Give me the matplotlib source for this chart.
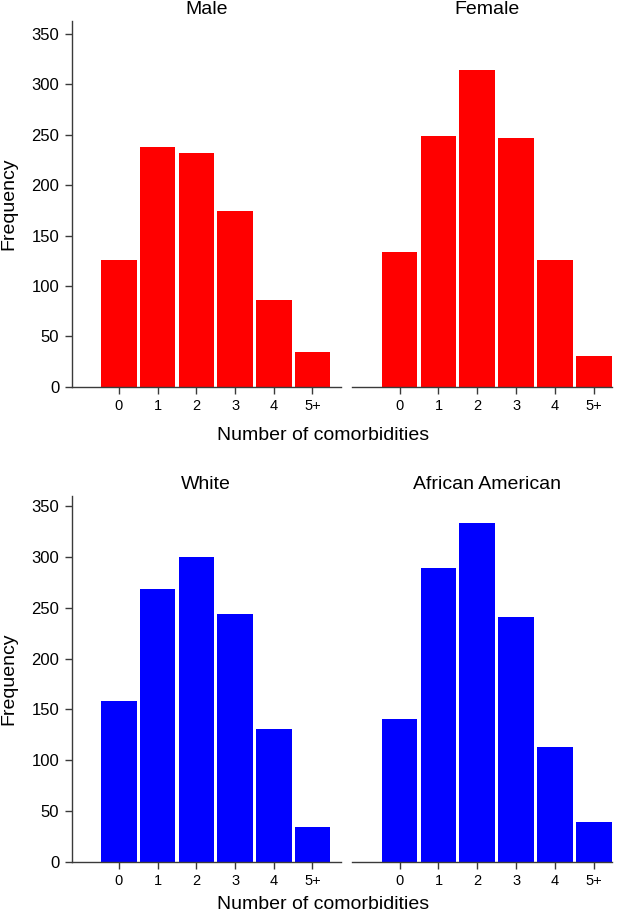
import numpy as np
import matplotlib
matplotlib.use("Agg")
import matplotlib.pyplot as plt

plt.rcParams['font.family'] = ['Liberation Sans', 'DejaVu Sans']

# --- data ---
categories = ["0", "1", "2", "3", "4", "5+"]
male = [126, 238, 232, 174, 86, 34]
female = [134, 249, 314, 247, 126, 30]
white = [158, 268, 300, 244, 131, 34]
african_american = [140, 289, 333, 241, 113, 39]
yticks = [0, 50, 100, 150, 200, 250, 300, 350]

W, H = 622, 914
fig = plt.figure(figsize=(W / 100, H / 100), dpi=100)

spine_col = "#3a3a3a"
x = np.arange(len(categories))


def make_panel(rect, values, color, title, ylim_top, show_y, spine_end):
    ax = fig.add_axes(rect)
    ax.bar(x, values, width=0.92, color=color, edgecolor="none")
    ax.set_xlim(-1.22, 5.73)
    ax.set_ylim(0, ylim_top)
    ax.set_xticks(x)
    ax.set_xticklabels(categories, fontsize=10.5)
    ax.set_title(title, fontsize=14, pad=5)
    for s in ["top", "right"]:
        ax.spines[s].set_visible(False)
    ax.spines["bottom"].set_color(spine_col)
    ax.spines["bottom"].set_linewidth(1.0)
    ax.spines["bottom"].set_bounds(-1.22, spine_end)
    ax.tick_params(axis="x", length=5, width=1.0, color=spine_col, pad=4)
    if show_y:
        ax.set_yticks(yticks)
        ax.tick_params(axis="y", length=5, width=1.0, color=spine_col,
                       labelsize=12, pad=4)
        ax.spines["left"].set_color(spine_col)
        ax.spines["left"].set_linewidth(1.0)
    else:
        ax.spines["left"].set_visible(False)
        ax.set_yticks([])
    return ax


def px(l, t, r, b):
    return [l / W, 1 - b / H, (r - l) / W, (b - t) / H]


make_panel(px(71.7, 21, 340.7, 386.7), male, "#ff0000", "Male", 363, True, 5.73)
make_panel(px(352.3, 21, 622, 386.7), female, "#ff0000", "Female", 363, False, 5.48)
make_panel(px(71.7, 496, 340.7, 861.7), white, "#0000ff", "White", 360, True, 5.73)
make_panel(px(352.3, 496, 622, 861.7), african_american, "#0000ff",
           "African American", 360, False, 5.48)

# shared labels
for yc in [204, 679]:
    fig.text(8.5 / W, 1 - yc / H, "Frequency", rotation=90, fontsize=14,
             ha="center", va="center")
for yb in [439.5, 909]:
    fig.text(323 / W, 1 - yb / H, "Number of comorbidities", fontsize=14,
             ha="center", va="baseline")

fig.savefig("out.png", dpi=100)
